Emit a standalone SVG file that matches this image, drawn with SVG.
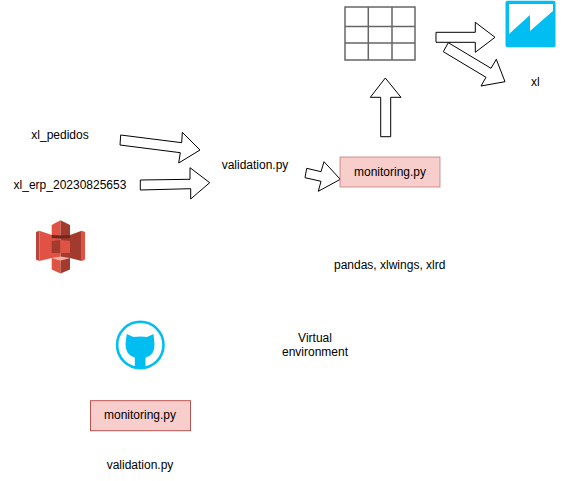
<svg xmlns="http://www.w3.org/2000/svg" width="565" height="481" viewBox="0 0 565 481">
<style>
text{font-family:"Liberation Sans",Arial,sans-serif;font-size:12px;fill:#000}
.m{text-anchor:middle}
.arrow{fill:#fff;stroke:#000;stroke-width:1;stroke-linejoin:miter}
.box{fill:#f8cecc;stroke:#b85450}
.grid{fill:none;stroke:#666;stroke-width:1.5}
</style>
<rect width="565" height="481" fill="#fff"/>
<g id="connectors">
<polygon class="arrow" points="120.7,135 181.7,142.7 182.3,132.3 200,150 178.7,163 180.3,152.7 120,145"/>
<polygon class="arrow" points="140.3,180 190,179.3 190,167.7 209.7,182.7 190.7,199 190.7,188.7 140.3,190"/>
<polygon class="arrow" points="306.7,168.3 321,171.7 324,161.7 340.3,179.3 318.3,191.3 321,181.3 305,177.7"/>
<polygon class="arrow" points="380.7,136.7 380.7,97.3 370.3,97.3 385.3,78 401,97.3 390.7,97.3 390.7,136.7"/>
<polygon class="arrow" points="436,32.3 475.3,32.3 475.3,22.3 495,37.3 475.3,52.3 475.3,42.3 436,42.3"/>
<polygon class="arrow" points="448.3,42.7 491,68.3 496.3,59.3 505,81.7 481,86 486,77.3 443.3,51.7"/>
</g>
<g id="table">
<rect class="grid" x="345" y="7" width="70" height="53"/>
<path class="grid" d="M368.300 7V60M392 7V60M345 26.500H415M345 43H415"/>
</g>
<g id="logo-powerbi">
<rect x="505.500" y="0.700" width="50" height="46.500" rx="2" fill="#00bef2"/>
<polygon points="509,4 553,4 553,11 530,31 530,15 509,34" fill="#fff"/>
</g>
<g id="label-xl"><text x="531" y="86">xl</text></g>
<g id="label-xl-pedidos"><text class="m" x="60" y="139">xl_pedidos</text></g>
<g id="label-xl-erp"><text class="m" x="70" y="189">xl_erp_20230825653</text></g>
<g id="label-validation"><text class="m" x="255" y="169">validation.py</text></g>
<g id="monitoring-top">
<rect class="box" x="340" y="157" width="100" height="30" stroke-opacity="0.6"/>
<text class="m" x="390" y="176">monitoring.py</text>
</g>
<g id="label-libs"><text x="334" y="269">pandas, xlwings, xlrd</text></g>
<g id="s3-icon">
<polygon points="36,232 39.300,230.700 39.300,261 36,259.500" fill="#b8433a"/>
<polygon points="39.300,230.700 52,235 60.500,235 60.500,258 52,258 39.300,261" fill="#e05243"/>
<polygon points="85,232 81.700,230.700 81.700,261 85,259.500" fill="#e05243"/>
<polygon points="81.700,230.700 70,235 60.500,235 60.500,258 70,258 81.700,261" fill="#a33a2e"/>
<polygon points="51.700,225 60.500,220.300 60.500,235.500 51.700,235" fill="#e05243"/>
<polygon points="70,225 60.500,220.300 60.500,235.500 70,235" fill="#a33a2e"/>
<polygon points="51.700,235 60.500,235.500 70,235 70,238 60.500,238.500 51.700,238" fill="#6e261d"/>
<polygon points="51.700,241 60.500,240 60.500,253 51.700,253" fill="#a33a2e"/>
<polygon points="60.500,240 70,241 70,253 60.500,253" fill="#e05243"/>
<polygon points="51.700,258 60.500,256.500 70,258 60.500,260.500" fill="#f2b0a9"/>
<polygon points="51.700,258 60.500,260.500 60.500,273.500 51.700,269.500" fill="#e05243"/>
<polygon points="70,258 60.500,260.500 60.500,273.500 70,269.500" fill="#a33a2e"/>
</g>
<g id="github-icon">
<circle cx="140.300" cy="345" r="23.200" fill="none" stroke="#00bef2" stroke-width="2.600"/>
<path d="M126.700 334L133.500 337Q140.500 335.800 147 337L153.500 334L154.500 344Q155 355 145.500 357.500V368H134.800V357.500Q125.500 355 125.500 344Z" fill="#00bef2"/>
</g>
<g id="label-venv">
<text class="m" x="315" y="342">Virtual</text>
<text class="m" x="315" y="356">environment</text>
</g>
<g id="monitoring-bottom">
<rect class="box" x="90.500" y="400.700" width="100" height="30"/>
<text class="m" x="140" y="419">monitoring.py</text>
</g>
<g id="label-validation-bottom"><text class="m" x="140" y="469">validation.py</text></g>
</svg>
